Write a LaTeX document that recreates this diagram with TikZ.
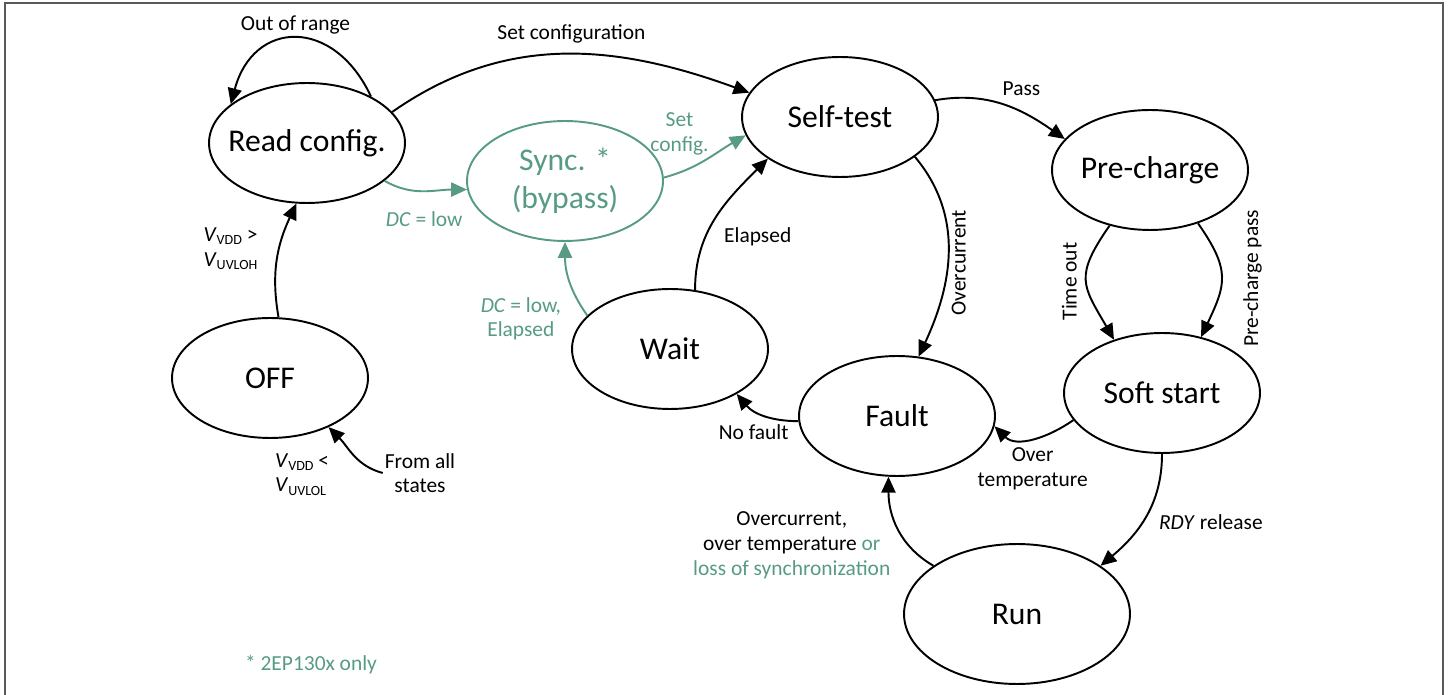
\documentclass[tikz,border=0pt]{standalone}
\usepackage{fontspec}
\setmainfont{Carlito}
\usetikzlibrary{shapes.geometric,arrows.meta}
\definecolor{syncgreen}{RGB}{87,155,131}
\newcommand{\vlev}[1]{\textit{V}\raisebox{-0.3ex}{\fontsize{8}{9}\selectfont #1}}

\begin{document}
\begin{tikzpicture}[x=0.02cm,y=0.02cm]
\tikzset{state/.style = {shape=ellipse,draw,line width=1.1pt,minimum width=3.92cm,minimum height=2.4cm,inner xsep=-12pt,inner ysep=0pt,align=center,font=\fontsize{18}{21.5}\selectfont}}
\tikzset{lbl/.style = {font=\fontsize{12.2}{14}\selectfont,align=center,inner sep=1pt}}
\tikzset{trans/.style = {-{Triangle[length=9pt,width=8pt]},line width=1.1pt}}
\useasboundingbox (0,0) rectangle (1450,-695);
\draw[line width=1.2pt,black!65] (5,-695) -- (5,-3) -- (1443,-3) -- (1443,-695);
% states
\node[state] (read) at (307,-143) {Read config.};
\node[state,draw=syncgreen,text=syncgreen] (sync) at (565,-181) {Sync. *\\(bypass)};
\node[state] (self) at (840,-117) {Self-test};
\node[state] (pre) at (1150,-170) {Pre-charge};
\node[state] (soft) at (1162,-393) {Soft start};
\node[state] (fault) at (897,-416) {Fault};
\node[state] (wait) at (670,-349) {Wait};
\node[state] (off) at (270,-378) {OFF};
\node[state,minimum width=4.52cm,minimum height=2.8cm] (run) at (1017,-614) {Run};
\node[lbl] (all) at (420,-473) {From all\\states};
\node[lbl,text=syncgreen] (note) at (311,-665) {* 2EP130x only};
% transitions
\path[trans]
(read.36) edge[out=115,in=75,looseness=1.6] node[lbl,above=1pt] {Out of range} (read.153)
(read.20) edge[out=35,in=160] node[lbl,above=5pt,pos=0.52] {Set configuration} (self.165)
(self.10) edge[out=10,in=145] node[lbl,above=8pt,pos=0.65] {Pass} (pre.160)
(self.332) edge[out=-50,in=65] node[lbl,xshift=1pt,rotate=90,anchor=north,pos=0.55] {Overcurrent} (fault.70)
(pre.234) edge[out=235,in=120,looseness=1.4] node[lbl,xshift=-4pt,rotate=90,anchor=south] {Time out} (soft.132)
(pre.312) edge[out=-55,in=65,looseness=1.3] node[lbl,xshift=11pt,rotate=90,anchor=north] {Pre-charge pass} (soft.55)
(soft.197) edge[out=215,in=315] node[lbl,below=4pt] {Over\\temperature} (fault.354)
(soft.270) edge[out=270,in=40] node[lbl,right=8pt,pos=0.55] {\textit{RDY} release} (run.30)
(run.150) edge[out=150,in=270] node[lbl,left=9pt,pos=0.3] {Overcurrent,\\over temperature \textcolor{syncgreen}{or}\\\textcolor{syncgreen}{loss of synchronization}} (fault.262)
(fault.183) edge[out=180,in=310] node[lbl,below=7pt,pos=0.68] {No fault} (wait.326)
(wait.67) edge[out=90,in=225] node[lbl,right=9pt,pos=0.35] {Elapsed} (self.210)
(off.82) edge[out=100,in=245] node[lbl,left=11pt,pos=0.6,align=left] {\vlev{VDD} >\\\vlev{UVLOH}} (read.260)
(all.west) edge[out=165,in=315] node[lbl,left=21pt,yshift=-4pt,pos=0.2,align=left] {\vlev{VDD} <\\\vlev{UVLOL}} (off.320);
% bypass path
\path[trans,syncgreen]
(read.334) edge[out=-30,in=180] node[lbl,below=10pt] {\textit{DC} = low} (sync.185)
(sync.2) edge[out=15,in=210] node[lbl,anchor=south east,xshift=3pt,yshift=1pt] {Set\\config.} (self.191)
(wait.158) edge[out=125,in=270] node[lbl,left=12pt,yshift=-4pt,pos=0.05] {\textit{DC} = low,\\Elapsed} (sync.270);
\end{tikzpicture}
\end{document}
